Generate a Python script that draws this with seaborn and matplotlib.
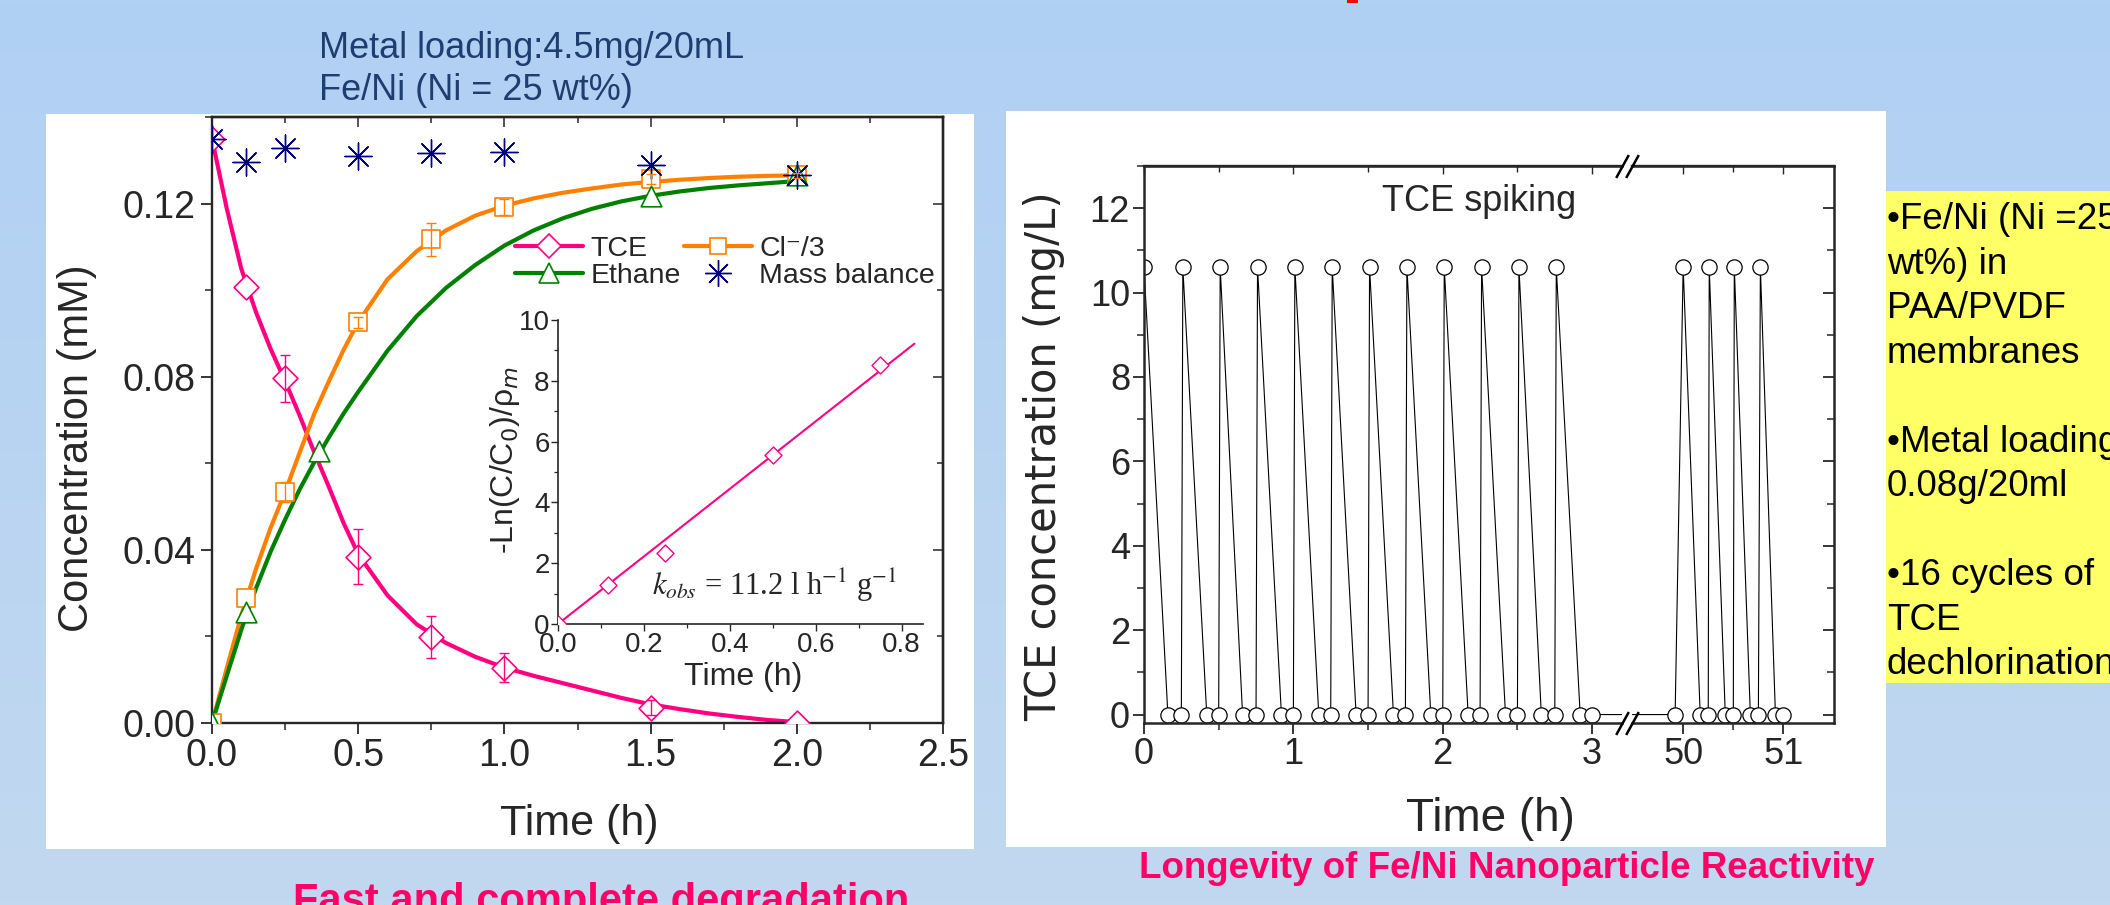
import numpy as np
import matplotlib
matplotlib.use("Agg")
import matplotlib.pyplot as plt
from matplotlib.patches import Rectangle
from matplotlib.lines import Line2D
from matplotlib.ticker import MultipleLocator, FixedLocator, FormatStrFormatter
import seaborn as sns

# ---------------- left panel: TCE degradation ----------------
sample_time = [0, 0.117, 0.25, 0.5, 0.75, 1.0, 1.5, 2.0]
tce_conc = [0.135, 0.1008, 0.0796, 0.0384, 0.0199, 0.0128, 0.0035, 0.0]
tce_err = [0, 0, 0.0054, 0.0064, 0.0048, 0.0033, 0.0017, 0]
chloride_conc = [0, 0.0288, 0.0534, 0.0926, 0.1118, 0.1192, 0.1257, 0.1265]
chloride_err = [0, 0, 0.0023, 0.0013, 0.0038, 0.0018, 0.0011, 0.0006]
mass_balance = [0.135, 0.1296, 0.1328, 0.1309, 0.1316, 0.1320, 0.1290, 0.1267]
ethane_time = [0, 0.117, 0.365, 1.5, 2.0]
ethane_conc = [0, 0.0257, 0.0628, 0.1218, 0.1267]

# model curves as drawn
fit_time = [0, 0.05, 0.1, 0.15, 0.2, 0.25, 0.3, 0.35, 0.4, 0.45, 0.5, 0.6, 0.7, 0.8,
            0.9, 1.0, 1.1, 1.2, 1.3, 1.4, 1.5, 1.6, 1.7, 1.8, 1.9, 2.0]
tce_fit = [0.135, 0.119, 0.105, 0.095, 0.0865, 0.0790, 0.0710, 0.0625, 0.0545, 0.0462,
           0.0390, 0.0295, 0.0228, 0.0185, 0.0153, 0.0128, 0.0109, 0.0092, 0.0075,
           0.0058, 0.0043, 0.0032, 0.0022, 0.0014, 0.0007, 0.0002]
chloride_fit = [0, 0.0125, 0.0248, 0.0355, 0.0450, 0.0534, 0.0625, 0.0715, 0.0790,
                0.0862, 0.0926, 0.1025, 0.1090, 0.1138, 0.1172, 0.1195, 0.1212, 0.1225,
                0.1235, 0.1244, 0.1250, 0.1255, 0.1259, 0.1262, 0.1264, 0.1265]
ethane_fit = [0, 0.0108, 0.0215, 0.0310, 0.0395, 0.0470, 0.0540, 0.0603, 0.0660, 0.0715,
              0.0765, 0.0860, 0.0940, 0.1005, 0.1058, 0.1103, 0.1138, 0.1166, 0.1188,
              0.1205, 0.1218, 0.1228, 0.1236, 0.1242, 0.1247, 0.1252]

# inset: pseudo-first-order kinetics
kin_time = [0, 0.117, 0.25, 0.5, 0.75]
kin_val = [0, 1.28, 2.33, 5.57, 8.52]
kin_fit_time = [0, 0.83]
kin_fit_val = [0, 9.22]

# ---------------- right panel: repeated spiking ----------------
cycle_time = [0.0,
              0.16, 0.25, 0.26, 0.42, 0.50, 0.51, 0.66, 0.75, 0.76,
              0.92, 1.00, 1.01, 1.17, 1.25, 1.26, 1.42, 1.50, 1.51,
              1.67, 1.75, 1.76, 1.92, 2.00, 2.01, 2.17, 2.25, 2.26,
              2.42, 2.50, 2.51, 2.66, 2.75, 2.76,
              2.92, 3.00,
              49.92, 50.00,
              50.17, 50.25, 50.26, 50.42, 50.50, 50.51, 50.67, 50.75, 50.77,
              50.92, 51.00]
cycle_conc = [10.6,
              0, 0, 10.6, 0, 0, 10.6, 0, 0, 10.6,
              0, 0, 10.6, 0, 0, 10.6, 0, 0, 10.6,
              0, 0, 10.6, 0, 0, 10.6, 0, 0, 10.6,
              0, 0, 10.6, 0, 0, 10.6,
              0, 0,
              0, 10.6,
              0, 0, 10.6, 0, 0, 10.6, 0, 0, 10.6,
              0, 0]

notes = ["\u2022Fe/Ni (Ni =25", "wt%) in", "PAA/PVDF", "membranes", "",
         "\u2022Metal loading:", "0.08g/20ml", "",
         "\u202216 cycles of", "TCE", "dechlorination"]

PINK = "#ff0080"
ORANGE = "#ff8000"
GREEN = "#008000"
NAVY = "#000080"

sns.set_style("ticks")
plt.rcParams["font.family"] = ["Liberation Sans", "DejaVu Sans"]
plt.rcParams["axes.linewidth"] = 1.7

W, H = 2110, 905


def px_box(x0, y0, x1, y1):
    return [x0 / W, 1 - y1 / H, (x1 - x0) / W, (y1 - y0) / H]


def fig_rect(fig, x0, y0, x1, y1, color, z):
    fig.add_artist(Rectangle((x0 / W, 1 - y1 / H), (x1 - x0) / W, (y1 - y0) / H,
                             transform=fig.transFigure, facecolor=color,
                             edgecolor="none", zorder=z))


fig = plt.figure(figsize=(W / 100, H / 100), dpi=100)

# slide background (soft vertical gradient)
bg = fig.add_axes([0, 0, 1, 1], zorder=-10)
top_c = np.array([176, 208, 244]) / 255
bot_c = np.array([194, 216, 240]) / 255
t = np.linspace(0, 1, 256)[:, None, None]
bg.imshow(top_c + (bot_c - top_c) * t, aspect="auto", extent=(0, 1, 0, 1))
bg.set_axis_off()

fig_rect(fig, 46, 114, 974, 849, "white", -5)
fig_rect(fig, 1006, 111, 1886, 847, "white", -5)
fig_rect(fig, 1886, 191, 2110, 683, "#ffff66", -5)
fig_rect(fig, 1347, 0, 1358, 3, "red", -5)

# ================= left chart =================
ax = fig.add_axes(px_box(212, 117, 943, 723))
sns.lineplot(x=fit_time, y=tce_fit, ax=ax, color=PINK, lw=3, sort=False, estimator=None, zorder=2)
sns.lineplot(x=fit_time, y=chloride_fit, ax=ax, color=ORANGE, lw=3, sort=False, estimator=None, zorder=2)
sns.lineplot(x=fit_time, y=ethane_fit, ax=ax, color=GREEN, lw=3, sort=False, estimator=None, zorder=2)

sns.scatterplot(x=sample_time, y=tce_conc, ax=ax, marker="D", s=160, color="white",
                edgecolor=PINK, linewidth=1.2, zorder=3)
sns.scatterplot(x=sample_time, y=chloride_conc, ax=ax, marker="s", s=150, color="white",
                edgecolor=ORANGE, linewidth=1.2, zorder=3)
sns.scatterplot(x=ethane_time, y=ethane_conc, ax=ax, marker="^", s=220, color="white",
                edgecolor=GREEN, linewidth=1.2, zorder=3)
sns.scatterplot(x=sample_time, y=mass_balance, ax=ax, marker=(8, 2, 0), s=380, color=NAVY,
                linewidth=1.0, zorder=3)

st = np.array(sample_time)
for vals, errs, col in ((tce_conc, tce_err, PINK), (chloride_conc, chloride_err, ORANGE)):
    e = np.array(errs)
    m = e > 0
    ax.errorbar(st[m], np.array(vals)[m], yerr=e[m], fmt="none", ecolor=col,
                elinewidth=1, capsize=3.3, capthick=1, zorder=4)

ax.set_xlim(0, 2.5)
ax.set_ylim(0, 0.14)
ax.set_xticks([0, 0.5, 1.0, 1.5, 2.0, 2.5])
ax.set_yticks([0, 0.04, 0.08, 0.12])
ax.xaxis.set_minor_locator(MultipleLocator(0.25))
ax.yaxis.set_minor_locator(MultipleLocator(0.02))
ax.xaxis.set_major_formatter(FormatStrFormatter("%.1f"))
ax.yaxis.set_major_formatter(FormatStrFormatter("%.2f"))
ax.tick_params(which="major", direction="out", length=8, width=1.3, labelsize=27)
ax.tick_params(which="minor", direction="out", length=5, width=1.1)
ax.tick_params(axis="x", pad=3)
ax.tick_params(axis="y", pad=4)

sec_x = ax.secondary_xaxis("top")
sec_x.set_xticks([0, 0.5, 1.0, 1.5, 2.0, 2.5])
sec_x.xaxis.set_minor_locator(MultipleLocator(0.25))
sec_x.tick_params(which="both", direction="in", labeltop=False, width=1.1)
sec_x.tick_params(which="major", length=7)
sec_x.tick_params(which="minor", length=4)
sec_y = ax.secondary_yaxis("right")
sec_y.set_yticks([0, 0.04, 0.08, 0.12])
sec_y.yaxis.set_minor_locator(MultipleLocator(0.02))
sec_y.tick_params(which="both", direction="in", labelright=False, width=1.1)
sec_y.tick_params(which="major", length=7)
sec_y.tick_params(which="minor", length=4)

ax.set_xlabel("Time (h)", fontsize=31)
ax.xaxis.set_label_coords(0.502, -0.133)
ax.set_ylabel("Concentration (mM)", fontsize=30)
ax.yaxis.set_label_coords(-0.157, 0.454)

handles = [
    Line2D([], [], color=PINK, lw=3, marker="D", ms=12.5, mfc="white", mec=PINK, mew=1.2),
    Line2D([], [], color=GREEN, lw=3, marker="^", ms=15, mfc="white", mec=GREEN, mew=1.2),
    Line2D([], [], color=ORANGE, lw=3, marker="s", ms=12.2, mfc="white", mec=ORANGE, mew=1.2),
    Line2D([], [], ls="none", marker=(8, 2, 0), ms=19, color=NAVY, mew=1.0),
]
ax.legend(handles, ["TCE", "Ethane", "Cl\u207b/3", "Mass balance"], ncol=2,
          loc="upper left", bbox_to_anchor=(515 / W, 1 - 236 / H),
          bbox_transform=fig.transFigure, frameon=False, fontsize=20.5,
          borderpad=0, borderaxespad=0, handlelength=2.4, handletextpad=0.25,
          columnspacing=0.1, labelspacing=0.05)

# inset
ins = fig.add_axes(px_box(558, 320, 923, 624))
ins.patch.set_alpha(0)
sns.lineplot(x=kin_fit_time, y=kin_fit_val, ax=ins, color=PINK, lw=1.5, sort=False, estimator=None)
sns.scatterplot(x=kin_time, y=kin_val, ax=ins, marker="D", s=75, color="white",
                edgecolor=PINK, linewidth=1.0, zorder=3)
ins.set_xlim(0, 0.85)
ins.set_ylim(0, 10)
ins.set_xticks([0, 0.2, 0.4, 0.6, 0.8])
ins.set_yticks([0, 2, 4, 6, 8, 10])
ins.xaxis.set_minor_locator(MultipleLocator(0.1))
ins.yaxis.set_minor_locator(MultipleLocator(1))
ins.xaxis.set_major_formatter(FormatStrFormatter("%.1f"))
ins.spines["top"].set_visible(False)
ins.spines["right"].set_visible(False)
for s in ("left", "bottom"):
    ins.spines[s].set_linewidth(1.2)
ins.tick_params(which="major", direction="out", length=5, width=1.0, labelsize=20, pad=1)
ins.tick_params(which="minor", direction="out", length=3, width=0.9)
ins.set_xlabel("Time (h)", fontsize=23)
ins.xaxis.set_label_coords(0.507, -0.125)
ins.set_ylabel("-Ln(C/C$_0$)/\u03c1$_m$", fontsize=23)
ins.yaxis.set_label_coords(-0.099, 0.54)
ins.text(0.505, 1.28, "$k_{obs}$ = 11.2 l h$^{-1}$ g$^{-1}$", ha="center", va="center",
         fontsize=22, family="Liberation Serif", math_fontfamily="stix")

# ================= right chart (broken x axis) =================
axL = fig.add_axes(px_box(1144, 166, 1622, 723))
axR = fig.add_axes(px_box(1632, 166, 1834, 723), sharey=axL)
for a in (axL, axR):
    sns.lineplot(x=cycle_time, y=cycle_conc, ax=a, color="black", lw=0.8, marker="o",
                 markersize=11, markerfacecolor="white", markeredgecolor="black",
                 markeredgewidth=0.9, sort=False, estimator=None)
    for s in a.spines.values():
        s.set_linewidth(1.8)

axL.set_xlim(0, 3.2)
axR.set_xlim(49.49, 51.504)
axL.set_ylim(-0.2, 13)
axL.set_xticks([0, 1, 2, 3])
axL.xaxis.set_minor_locator(FixedLocator([0.5, 1.5, 2.5]))
axR.set_xticks([50, 51])
axR.xaxis.set_minor_locator(FixedLocator([50.5]))
axL.set_yticks([0, 2, 4, 6, 8, 10, 12])
axL.yaxis.set_minor_locator(MultipleLocator(1))
axL.spines["right"].set_visible(False)
axR.spines["left"].set_visible(False)
for a in (axL, axR):
    a.tick_params(which="major", direction="out", length=8, width=1.3, labelsize=26, pad=2)
    a.tick_params(which="minor", direction="out", length=5, width=1.1)
axL.tick_params(axis="y", right=False)
axR.yaxis.tick_right()
axR.tick_params(axis="y", which="both", direction="in", labelright=False)
for a, ticks, minors in ((axL, [0, 1, 2, 3], [0.5, 1.5, 2.5]), (axR, [50, 51], [50.5])):
    sx = a.secondary_xaxis("top")
    sx.set_xticks(ticks)
    sx.xaxis.set_minor_locator(FixedLocator(minors))
    sx.tick_params(which="both", direction="in", labeltop=False, width=1.0)
    sx.tick_params(which="major", length=6)
    sx.tick_params(which="minor", length=4)

slash = [(-0.55, -1), (0.55, 1)]
for a, xa in ((axL, 1), (axR, 0)):
    a.plot([xa, xa], [0, 1], transform=a.transAxes, ls="none", marker=slash, ms=16.5,
           mfc="none", mec="black", mew=1.8, clip_on=False, zorder=6)

axL.text(0.701, 0.919, "TCE spiking", transform=axL.transAxes, ha="center",
         va="baseline", fontsize=26)
axL.set_xlabel("Time (h)", fontsize=33)
axL.xaxis.set_label_coords(0.724, -0.133)
axL.set_ylabel("TCE concentration (mg/L)", fontsize=30, family="DejaVu Sans")
axL.yaxis.set_label_coords(-0.165, 0.479)
axR.set_xlabel("")
axR.set_ylabel("")

# ================= slide texts =================
fig.text(319 / W, 1 - 58 / H, "Metal loading:4.5mg/20mL", ha="left", va="baseline",
         fontsize=26, color="#1f3e70")
fig.text(319 / W, 1 - 100 / H, "Fe/Ni (Ni = 25 wt%)", ha="left", va="baseline",
         fontsize=26, color="#1f3e70")
fig.text(293 / W, 1 - 913 / H, "Fast and complete degradation", ha="left", va="baseline",
         fontsize=30, fontweight="bold", color="#ff0066")
fig.text(1507 / W, 1 - 878 / H, "Longevity of Fe/Ni Nanoparticle Reactivity", ha="center",
         va="baseline", fontsize=26.5, fontweight="bold", color="#ff0066")
for i, line in enumerate(notes):
    if line:
        fig.text(1887 / W, 1 - (229 + 44.5 * i) / H, line, ha="left", va="baseline",
                 fontsize=26.5, color="black")

fig.savefig("out.png", dpi=100)
